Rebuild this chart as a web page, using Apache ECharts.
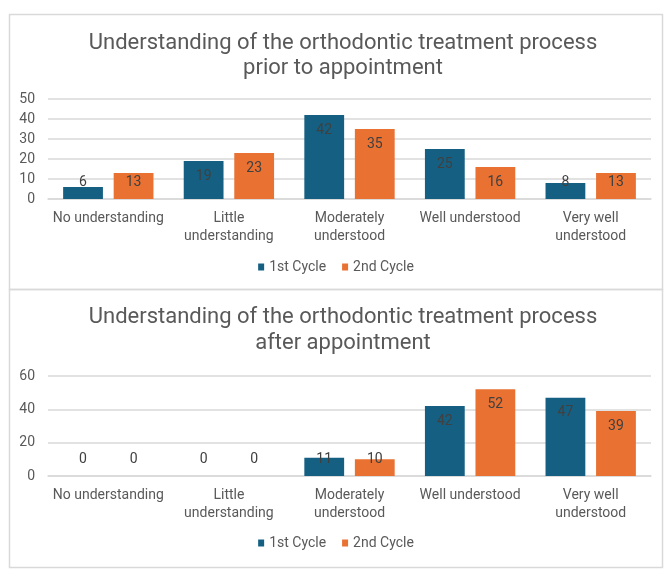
<!DOCTYPE html>
<html>
<head>
<meta charset="utf-8">
<script src="https://cdn.jsdelivr.net/npm/echarts@6/dist/echarts.min.js"></script>
<style>
html,body{margin:0;padding:0;background:#fff;}
#chart{width:672px;height:573px;}
</style>
</head>
<body>
<div id="chart"></div>
<script>
const categories = ['No understanding', 'Little\nunderstanding', 'Moderately\nunderstood', 'Well understood', 'Very well\nunderstood'];
const seriesNames = ['1st Cycle', '2nd Cycle'];
const priorTitle = 'Understanding of the orthodontic treatment process\nprior to appointment';
const afterTitle = 'Understanding of the orthodontic treatment process\nafter appointment';
const prior1st = [6, 19, 42, 25, 8];
const prior2nd = [13, 23, 35, 16, 13];
const after1st = [0, 0, 11, 42, 47];
const after2nd = [0, 0, 10, 52, 39];
const priorAxisMax = 50, priorAxisInterval = 10;
const afterAxisMax = 60, afterAxisInterval = 20;

const FONT = 'Roboto';
const BLUE = '#156082', ORANGE = '#E97132';
const GRID_H = 100;

function barData(values, max) {
  return values.map(v => {
    const px = v / max * GRID_H;
    const lbl = px < 32 ? { position: 'insideBottom', distance: 10 } : { position: 'insideTop', distance: 8 };
    return { value: v, label: lbl };
  });
}
function makeSeries(name, values, max, color, idx) {
  return {
    type: 'bar', name: name, xAxisIndex: idx, yAxisIndex: idx,
    data: barData(values, max),
    barWidth: '33%', barGap: '27%',
    itemStyle: { color: color },
    label: { show: true, color: '#404040', fontSize: 14, fontFamily: FONT },
    emphasis: { disabled: true }
  };
}
const axisLabelStyle = { color: '#595959', fontSize: 14, fontFamily: FONT };

const chart = echarts.init(document.getElementById('chart'), null, { renderer: 'canvas' });
chart.setOption({
  animation: false,
  textStyle: { fontFamily: FONT },
  graphic: [
    { type: 'rect', shape: { x: 9.5, y: 14.5, width: 653, height: 275 }, style: { fill: 'none', stroke: '#d9d9d9', lineWidth: 1.5 }, z: -1 },
    { type: 'rect', shape: { x: 9.5, y: 289.5, width: 653, height: 278 }, style: { fill: 'none', stroke: '#d9d9d9', lineWidth: 1.5 }, z: -1 }
  ],
  title: [
    { text: priorTitle, left: 338, textAlign: 'center', top: 26, textStyle: { color: '#595959', fontSize: 22, fontWeight: 'normal', lineHeight: 25, fontFamily: FONT } },
    { text: afterTitle, left: 338, textAlign: 'center', top: 299, textStyle: { color: '#595959', fontSize: 22, fontWeight: 'normal', lineHeight: 26, fontFamily: FONT } }
  ],
  legend: [
    { data: seriesNames, top: 255, left: 'center', itemWidth: 6, itemHeight: 7, itemGap: 16, icon: 'rect', textStyle: { color: '#595959', fontSize: 14, fontFamily: FONT }, selectedMode: false },
    { data: seriesNames, top: 531, left: 'center', itemWidth: 6, itemHeight: 7, itemGap: 16, icon: 'rect', textStyle: { color: '#595959', fontSize: 14, fontFamily: FONT }, selectedMode: false }
  ],
  grid: [
    { left: 48, right: 21, top: 99, height: GRID_H },
    { left: 48, right: 21, top: 376, height: GRID_H }
  ],
  xAxis: [0, 1].map(i => ({
    type: 'category', gridIndex: i, data: categories,
    axisLine: { lineStyle: { color: '#d9d9d9', width: 1.5 } },
    axisTick: { show: false },
    axisLabel: Object.assign({ margin: 10, lineHeight: 18, interval: 0 }, axisLabelStyle)
  })),
  yAxis: [
    { type: 'value', gridIndex: 0, min: 0, max: priorAxisMax, interval: priorAxisInterval,
      axisLine: { show: false }, axisTick: { show: false },
      axisLabel: Object.assign({ margin: 13 }, axisLabelStyle),
      splitLine: { lineStyle: { color: '#d9d9d9', width: 1.5 } } },
    { type: 'value', gridIndex: 1, min: 0, max: afterAxisMax, interval: afterAxisInterval,
      axisLine: { show: false }, axisTick: { show: false },
      axisLabel: Object.assign({ margin: 13 }, axisLabelStyle),
      splitLine: { lineStyle: { color: '#d9d9d9', width: 1.5 } } }
  ],
  series: [
    makeSeries(seriesNames[0], prior1st, priorAxisMax, BLUE, 0),
    makeSeries(seriesNames[1], prior2nd, priorAxisMax, ORANGE, 0),
    makeSeries(seriesNames[0], after1st, afterAxisMax, BLUE, 1),
    makeSeries(seriesNames[1], after2nd, afterAxisMax, ORANGE, 1)
  ]
});
</script>
</body>
</html>
